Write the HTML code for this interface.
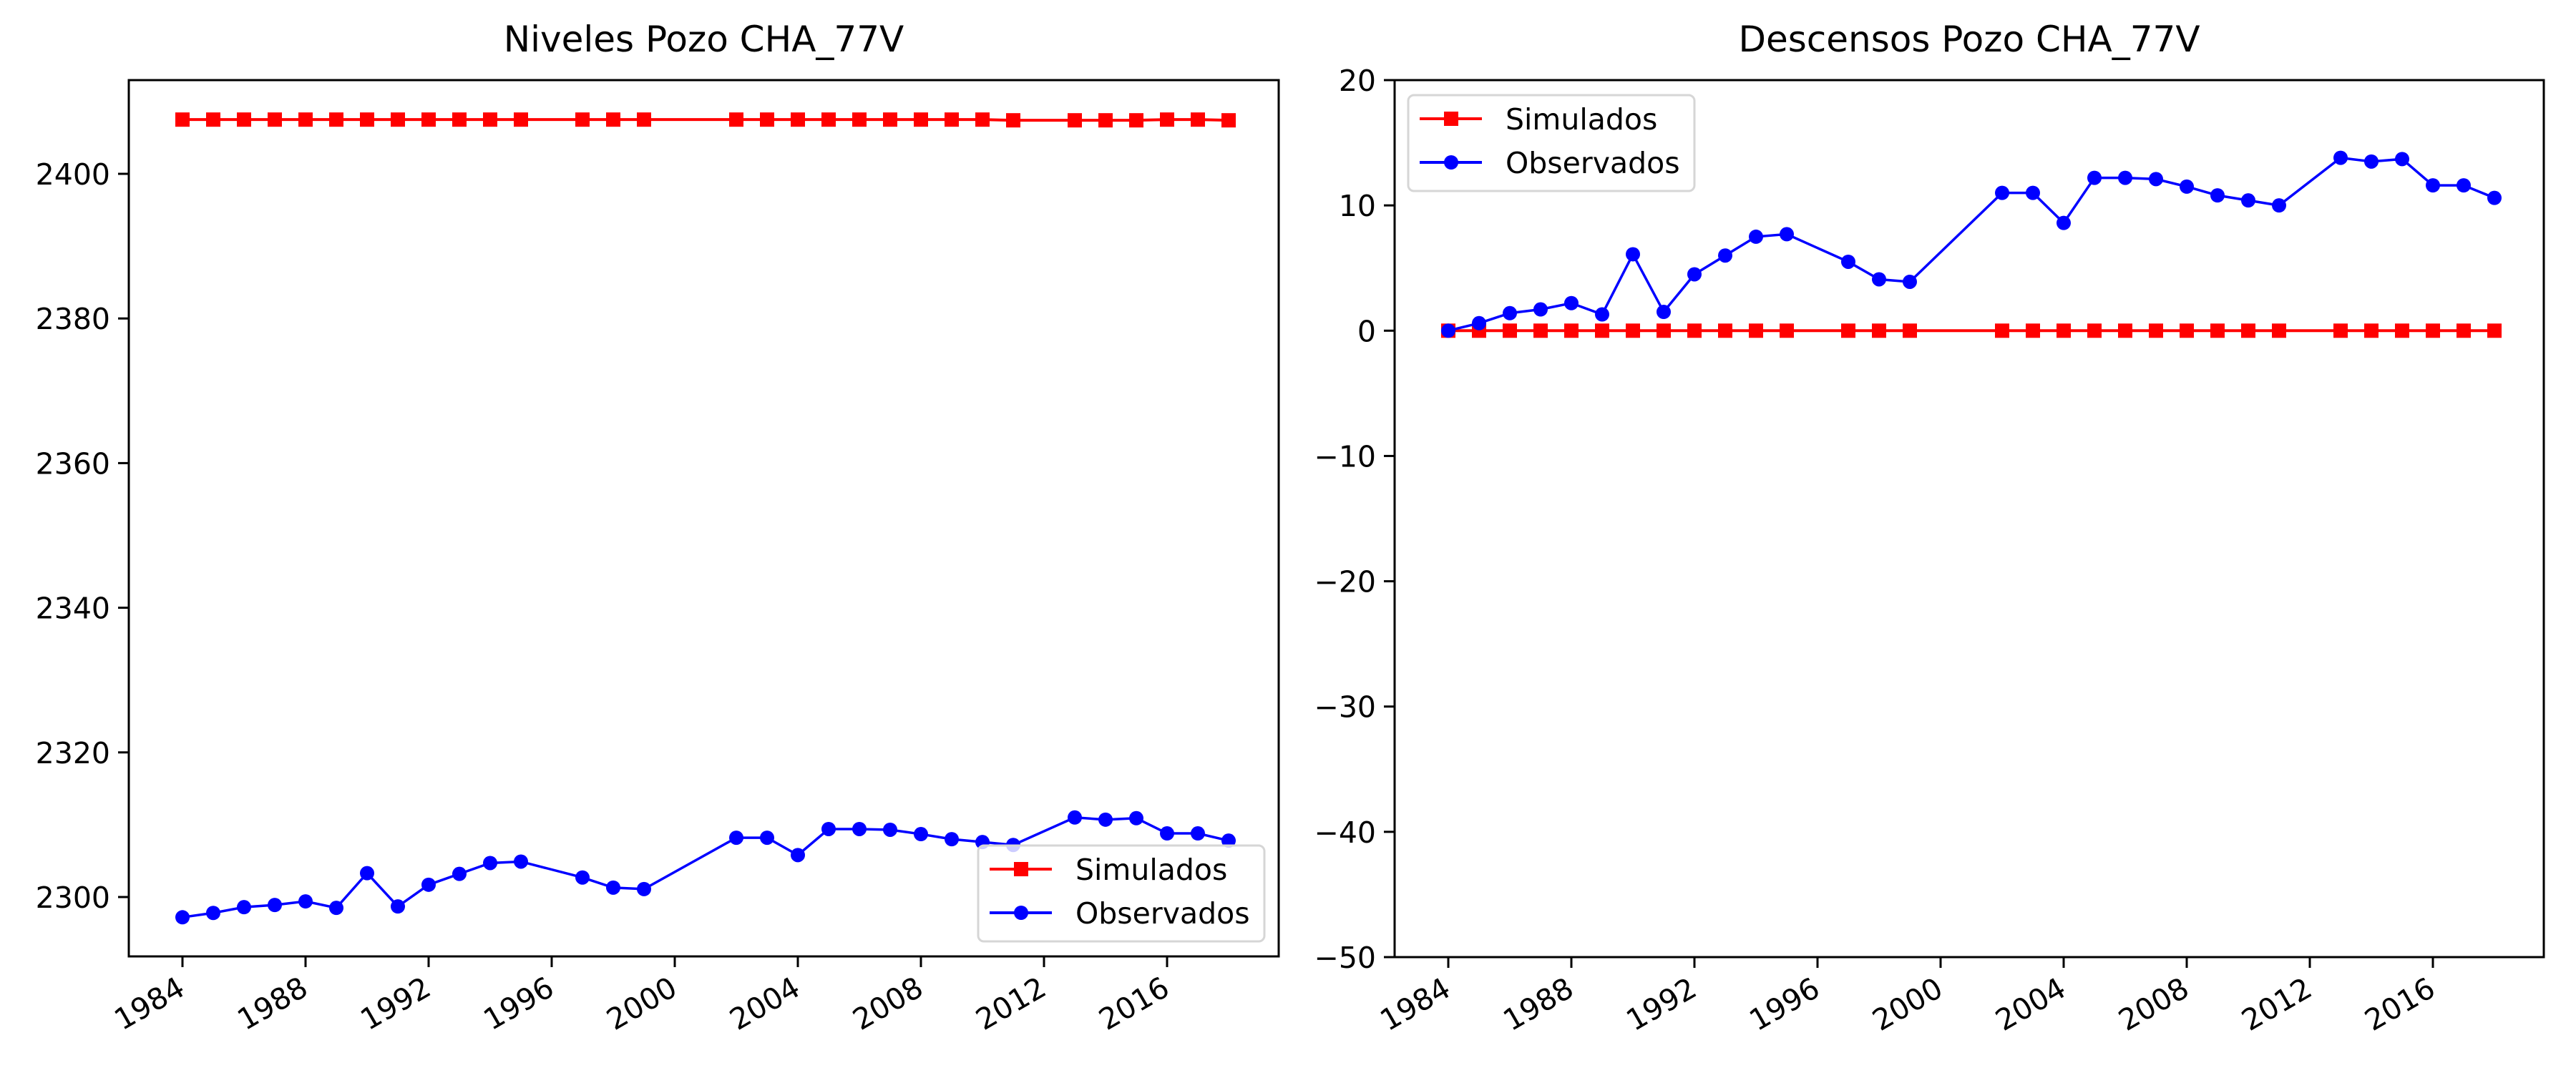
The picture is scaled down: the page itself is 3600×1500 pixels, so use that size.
<!DOCTYPE html>
<html><head><meta charset="utf-8"><style>
html,body{margin:0;padding:0;background:#fff;}
svg{display:block;font-family:"DejaVu Sans","Liberation Sans",sans-serif;}
</style></head><body>
<svg id="fig" width="3600" height="1500" viewBox="0 0 3600 1500" xmlns="http://www.w3.org/2000/svg">
<rect width="3600" height="1500" fill="#fff"/>
</svg>
<script>
const years = [1984,1985,1986,1987,1988,1989,1990,1991,1992,1993,1994,1995,1997,1998,1999,2002,2003,2004,2005,2006,2007,2008,2009,2010,2011,2013,2014,2015,2016,2017,2018];
const descObs = [0,0.6,1.4,1.7,2.2,1.3,6.1,1.5,4.5,6.0,7.5,7.7,5.5,4.1,3.9,11.0,11.0,8.6,12.2,12.2,12.1,11.5,10.8,10.4,10.0,13.8,13.5,13.7,11.6,11.6,10.6];
const descSim = [0,0,0,0,0,0,0,0,0,0,0,0,0,0,0,0,0,0,0,0,0,0,0,0,0,0,0,0,0,0,0];
const baseLevel = 2297.2;
const nivObs = descObs.map(v => baseLevel + v);
const nivSim = [2407.5,2407.5,2407.5,2407.5,2407.5,2407.5,2407.5,2407.5,2407.5,2407.5,2407.5,2407.5,2407.5,2407.5,2407.5,2407.5,2407.5,2407.5,2407.5,2407.5,2407.5,2407.5,2407.5,2407.5,2407.4,2407.4,2407.4,2407.4,2407.5,2407.5,2407.4];
const xTicks = [1984,1988,1992,1996,2000,2004,2008,2012,2016];
const yTicksLeft = [2300,2320,2340,2360,2380,2400];
const yTicksRight = [-50,-40,-30,-20,-10,0,10,20];

const NS = "http://www.w3.org/2000/svg";
const svg = document.getElementById('fig');
function el(tag, attrs, parent){ const e=document.createElementNS(NS,tag); for(const k in attrs) e.setAttribute(k,attrs[k]); (parent||svg).appendChild(e); return e; }

function panel(cfg){
  const g = el('g',{});
  
  
  const {x0,x1,y0,y1} = cfg;
  const pxPerYear = 43;
  const xs = yr => x0 + 75 + (yr-1984)*pxPerYear;
  const ys = v => y1 - (v-cfg.ymin)/(cfg.ymax-cfg.ymin)*(y1-y0);
  // title
  const t = el('text',{x:(x0+x1)/2,y:y0-40,'font-size':50,'text-anchor':'middle',fill:'#000'},g);
  t.textContent = cfg.title;
  
  
  // series
  function series(vals, color, marker, nm){
    const sg = el('g',{},g);
    
    
    const pts = years.map((y,i)=>xs(y)+','+ys(vals[i])).join(' ');
    el('polyline',{points:pts,fill:'none',stroke:color,'stroke-width':marker==='s'?4:3.5},sg);
    years.forEach((y,i)=>{
      let m;
      if(marker==='s') m = el('rect',{x:xs(y)-10,y:ys(vals[i])-10,width:20,height:20,fill:color},sg);
      else m = el('circle',{cx:xs(y),cy:ys(vals[i]),r:10,fill:color},sg);
      
      
    });
  }
  series(cfg.sim,'#ff0000','s','simulados-series');
  series(cfg.obs,'#0000ff','o','observados-series');
  // axes frame
  const fr = el('rect',{x:x0,y:y0,width:x1-x0,height:y1-y0,fill:'none',stroke:'#000','stroke-width':3},g);
  
  
  xTicks.forEach(yr=>{
    const x = xs(yr);
    el('line',{x1:x,y1:y1,x2:x,y2:y1+15,stroke:'#000','stroke-width':3},g);
    const tx = el('text',{x:x+6,y:y1+52,'font-size':41,'text-anchor':'end',fill:'#000',transform:`rotate(-30 ${x+6} ${y1+52})`},g);
    tx.textContent = yr;
    
    
  });
  cfg.yticks.forEach(v=>{
    const y = ys(v);
    el('line',{x1:x0-15,y1:y,x2:x0,y2:y,stroke:'#000','stroke-width':3},g);
    const ty = el('text',{x:x0-26,y:y+15,'font-size':41,'text-anchor':'end',fill:'#000'},g);
    ty.textContent = v<0 ? '\u2212'+Math.abs(v) : v;
    
    
  });
  // legend
  const lg = el('g',{},g);
  
  
  const lx = cfg.lx, ly = cfg.ly;
  el('rect',{x:lx,y:ly,width:400,height:134,rx:8,fill:'rgba(255,255,255,0.8)',stroke:'#d6d6d6','stroke-width':3},lg);
  const entries = [['Simulados','#ff0000','s'],['Observados','#0000ff','o']];
  entries.forEach((e,i)=>{
    const cy = ly+33+i*61;
    el('line',{x1:lx+16,y1:cy,x2:lx+103,y2:cy,stroke:e[1],'stroke-width':4},lg);
    if(e[2]==='s') el('rect',{x:lx+50,y:cy-10,width:20,height:20,fill:e[1]},lg);
    else el('circle',{cx:lx+60,cy:cy,r:10,fill:e[1]},lg);
    const lt = el('text',{x:lx+136,y:cy+15,'font-size':41,fill:'#000'},lg);
    lt.textContent = e[0];
    
    
  });
}

panel({name:'niveles-chart',title:'Niveles Pozo CHA_77V',x0:180,x1:1787,y0:112,y1:1337,
  ymin:2300-(1337-1254)/10.11, ymax:2400+(243-112)/10.11, yticks:yTicksLeft,
  sim:nivSim, obs:nivObs, lx:1367, ly:1182});
panel({name:'descensos-chart',title:'Descensos Pozo CHA_77V',x0:1949,x1:3555,y0:112,y1:1338,
  ymin:-50, ymax:20, yticks:yTicksRight,
  sim:descSim, obs:descObs, lx:1968, ly:133});
</script>
</body></html>
